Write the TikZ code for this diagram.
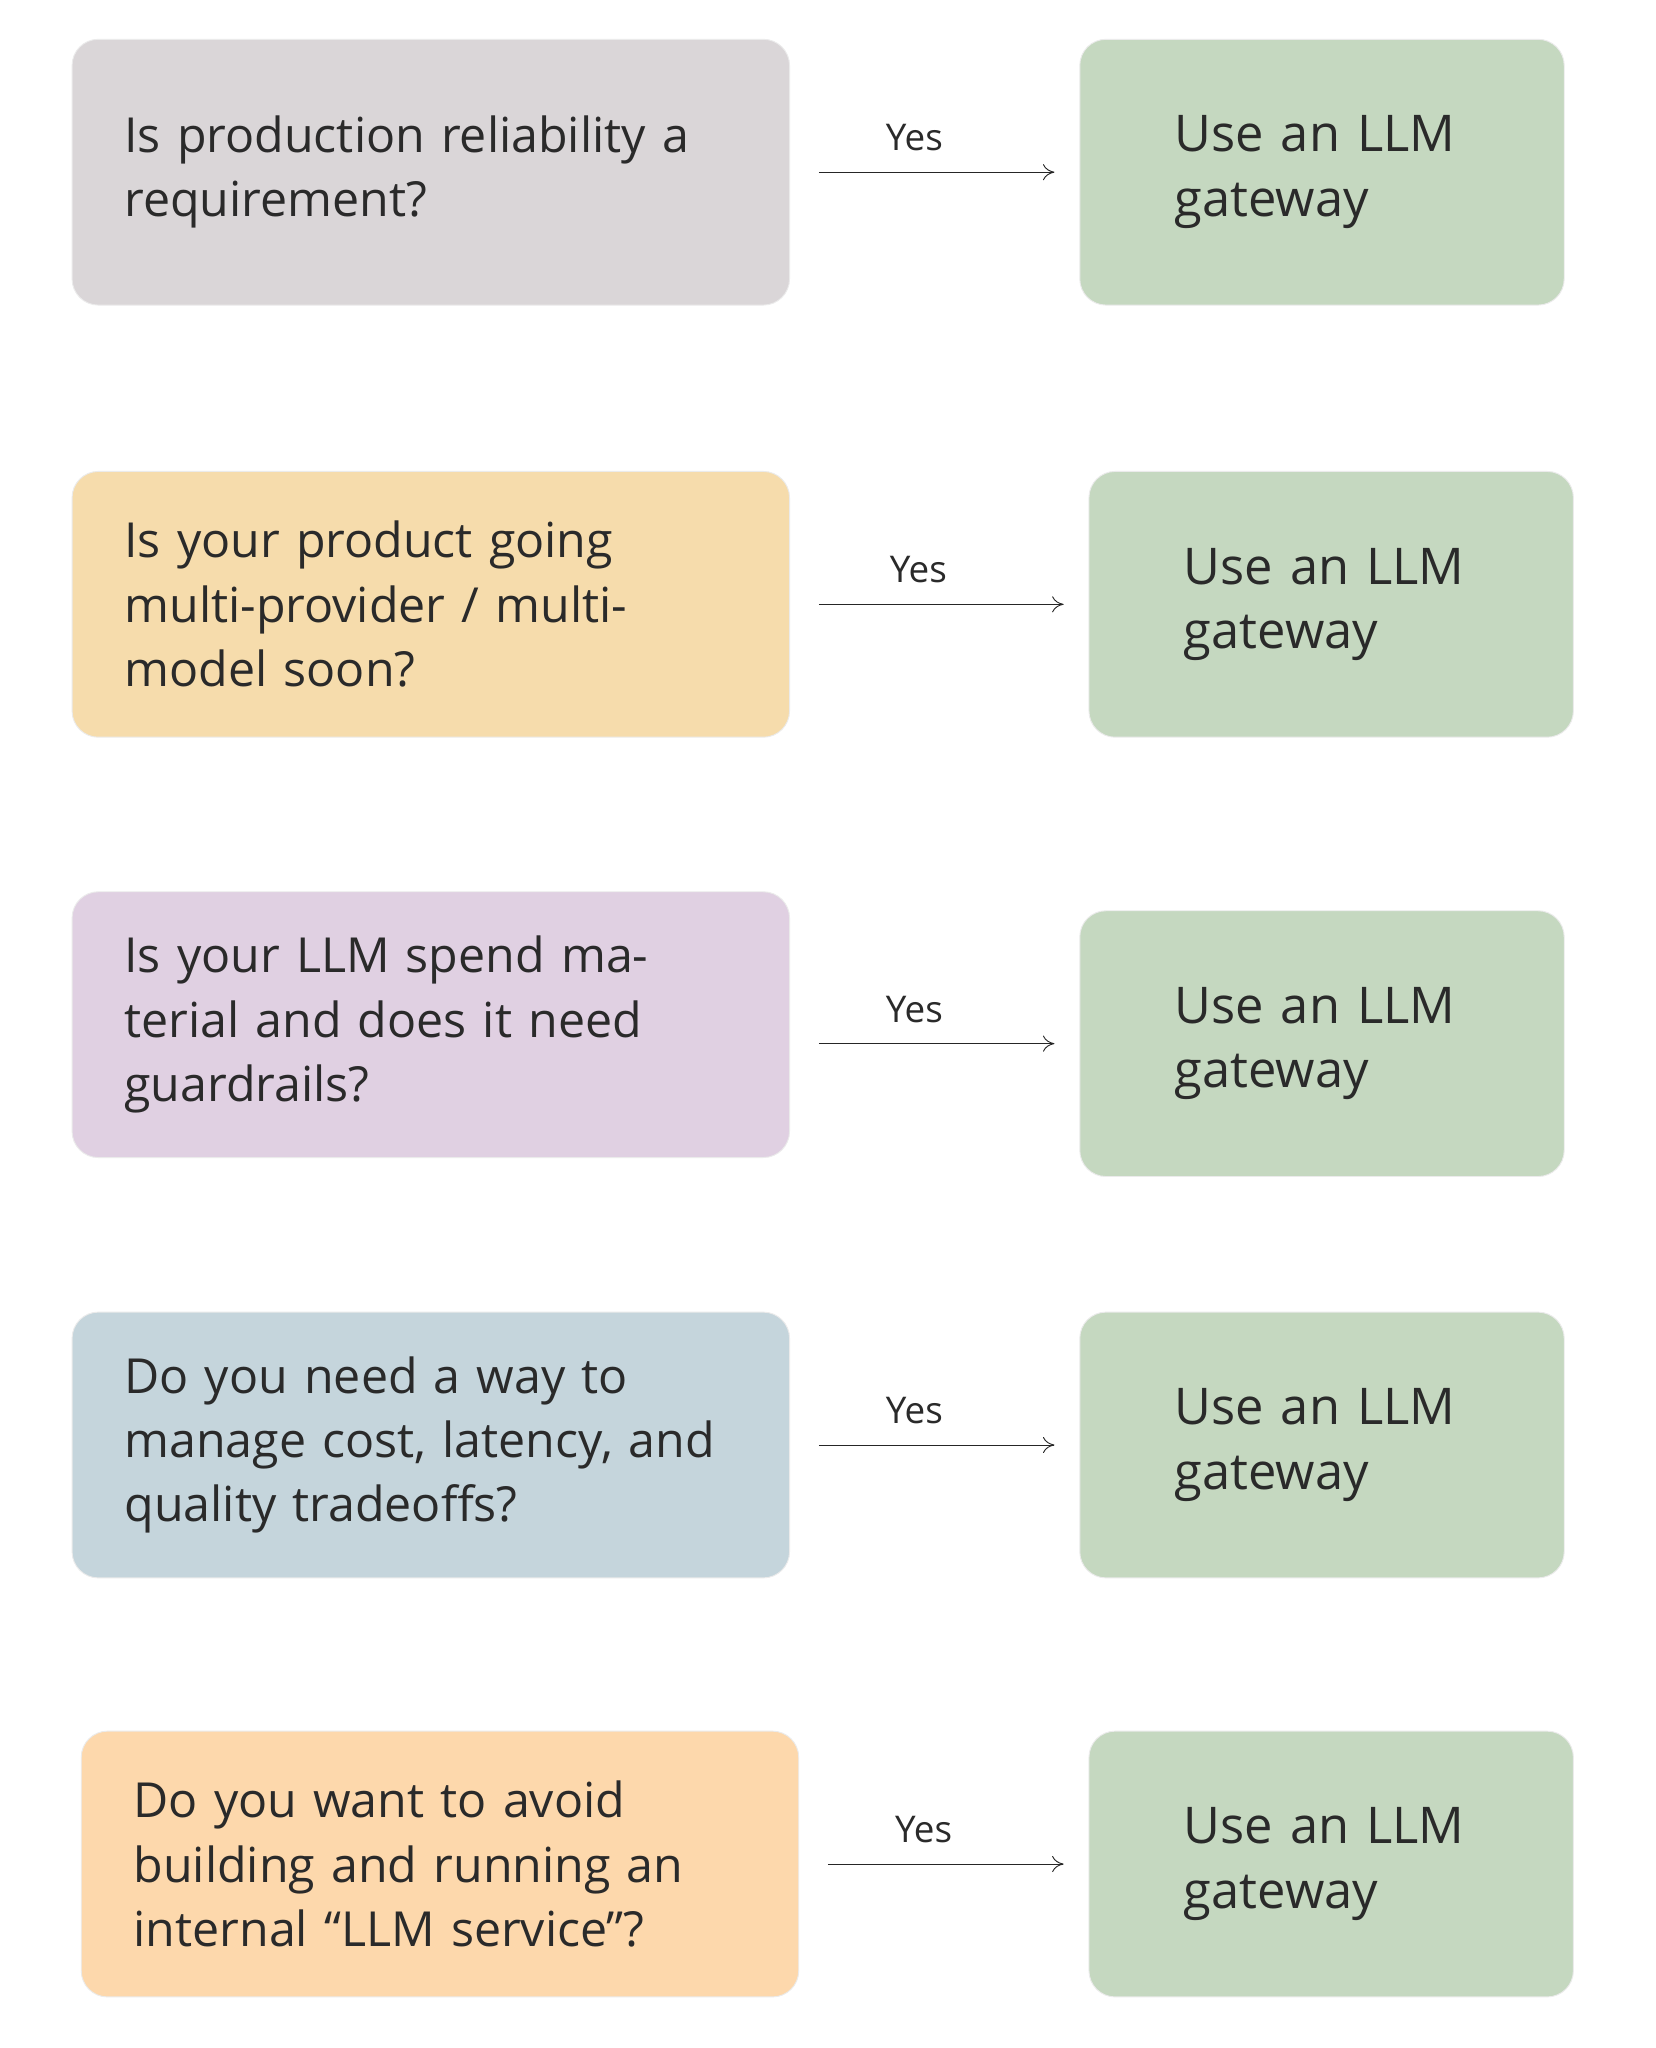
\documentclass[tikz,border=0pt]{standalone}
\usepackage{fontspec}
\setmainfont{Open Sans}
\usetikzlibrary{arrows.meta,positioning}
\definecolor{qgray}{HTML}{DAD6D8}
\definecolor{qyellow}{HTML}{F6DCAC}
\definecolor{qpurple}{HTML}{E0D0E2}
\definecolor{qblue}{HTML}{C5D5DC}
\definecolor{qorange}{HTML}{FDD8AC}
\definecolor{agreen}{HTML}{C5D8C0}
\definecolor{inkcolor}{HTML}{2A2A2A}
\begin{document}
\begin{tikzpicture}[
    x=0.02cm, y=-0.02cm,
    question/.style={rectangle, rounded corners=0.4cm, draw=black!8, fill=#1, text=inkcolor, minimum width=10.96cm, minimum height=4.06cm, text width=9.36cm, inner xsep=0.8cm, align=left, font=\fontsize{21}{28}\selectfont},
    answer/.style={rectangle, rounded corners=0.4cm, draw=black!8, fill=agreen, text=inkcolor, minimum width=7.4cm, minimum height=4.06cm, text width=4.5cm, inner xsep=1.45cm, align=left, font=\fontsize{22}{28}\selectfont},
    arrow/.style={-{To[length=5pt,width=7pt]}, thin, black!85, shorten <=0.44cm, shorten >=0.38cm},
    yes/.style={above=0.2cm, font=\fontsize{16}{18}\selectfont, text=inkcolor, pos=0.43}
]
\useasboundingbox[fill=white] (0,0) rectangle (1264,1564);

% Questions
\node[question=qgray] (q1) at (329,131.5) {Is production reliability a requirement?};
\node[question=qyellow] (q2) at (329,461.5) {Is your product going multi-provider / multi-model soon?};
\node[question=qpurple] (q3) at (329,782.5) {Is your LLM spend material and does it need guardrails?};
\node[question=qblue] (q4) at (329,1103.5) {Do you need a way to manage cost, latency, and quality tradeoffs?};
\node[question=qorange] (q5) at (336,1423.5) {Do you want to avoid building and running an internal “LLM service”?};

% Answers
\node[answer, right=4.42cm of q1] (a1) {Use an LLM gateway};
\node[answer, right=4.56cm of q2] (a2) {Use an LLM gateway};
\node[answer, right=4.42cm of q3, yshift=-0.29cm] (a3) {Use an LLM gateway};
\node[answer, right=4.42cm of q4] (a4) {Use an LLM gateway};
\node[answer, right=4.42cm of q5] (a5) {Use an LLM gateway};

% Arrows
\foreach \i in {1,...,5}
  \draw[arrow] (a\i.west -| q\i.east) -- node[yes] {Yes} (a\i.west);

\end{tikzpicture}
\end{document}
